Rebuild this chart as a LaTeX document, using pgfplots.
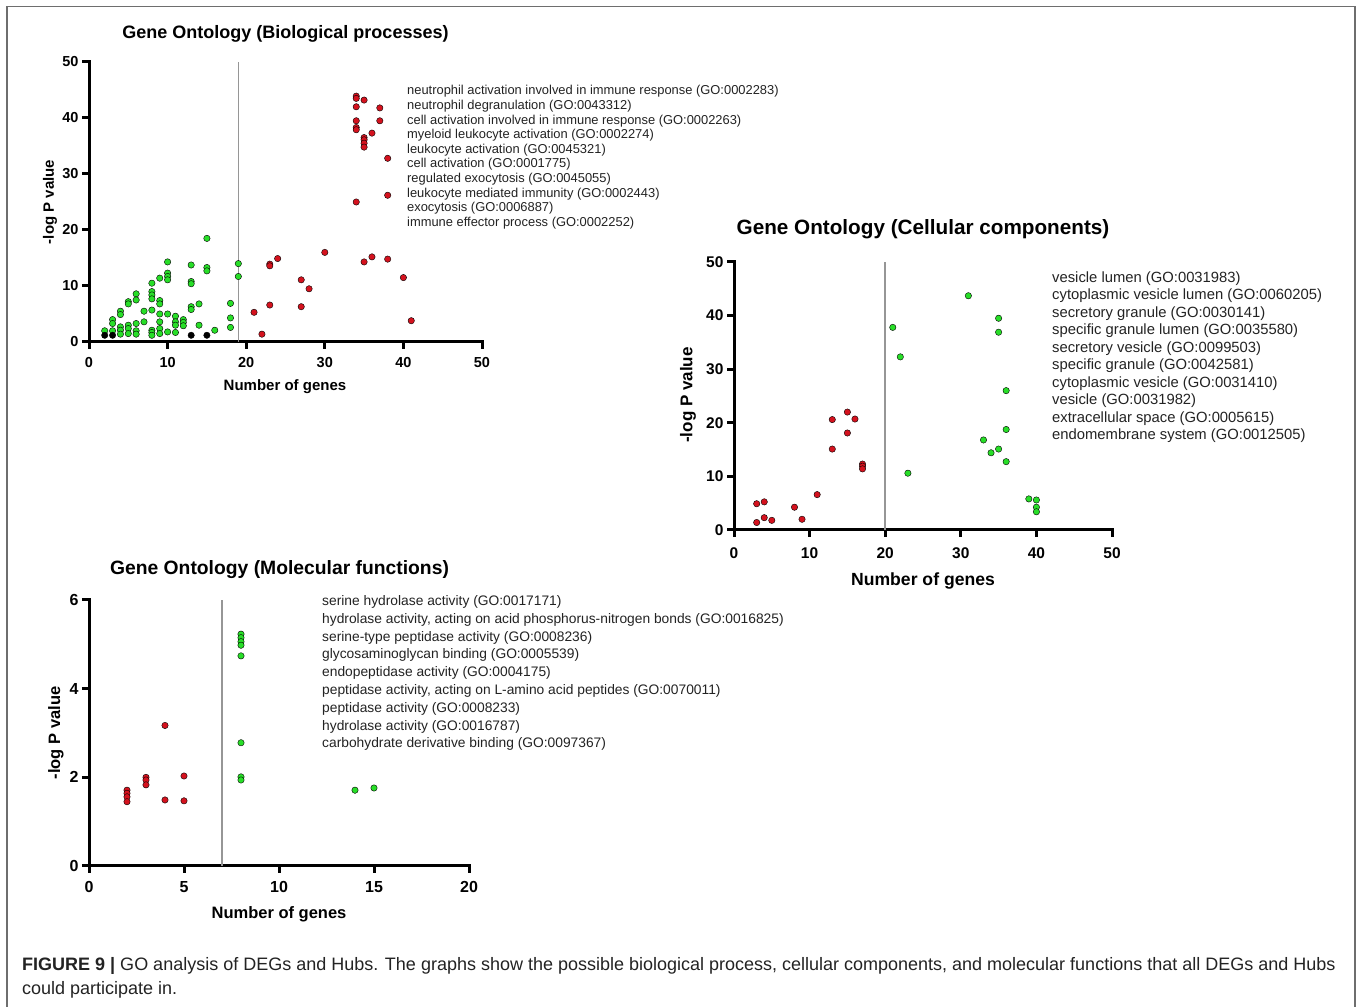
\documentclass[border=0pt]{standalone}
\usepackage{fontspec}
\setmainfont{Liberation Sans}
\usepackage{pgfplots}
\pgfplotsset{compat=1.18}
\definecolor{gogreen}{RGB}{40,222,40}
\definecolor{gored}{RGB}{212,18,30}
\definecolor{vline}{RGB}{150,150,150}
\definecolor{frame}{RGB}{110,110,110}
\definecolor{txt}{RGB}{35,35,35}
\newcommand{\fs}[1]{\fontsize{#1}{#1}\selectfont}
\pgfplotsset{
  goaxis/.style={
    anchor=south west, scale only axis, clip=false,
    axis lines=left,
    axis line style={-, line width=3pt, line cap=rect, black},
    tick align=outside, major tick length=7pt,
    tick style={line width=3pt, black},
    /pgf/number format/assume math mode=true,
  },
  gomark/.style={only marks, mark=*, mark size=3.2pt, mark options={draw=none, fill=#1}},
}
\begin{document}
\begin{tikzpicture}[x=1pt,y=1pt]
\useasboundingbox (0,0) rectangle (1358,1007);
\fill[white] (0,0) rectangle (1358,1007);
\draw[frame, line width=1.6pt] (7,-5) -- (7,1000.5) -- (1355,1000.5) -- (1355,-5);

% ---------------- Plot 1: Biological processes
\begin{axis}[goaxis, at={(89pt,665pt)}, width=393pt, height=280pt,
  xmin=0, xmax=50, ymin=0, ymax=50,
  xtick={0,10,...,50}, ytick={0,10,...,50},
  ticklabel style={font=\bfseries\fs{14.5}},
  xticklabel style={yshift=-5pt}]
\addplot[vline, line width=1.5pt] coordinates {(19,0) (19,50)};
\addplot[gomark=gogreen] coordinates {
(2,2.0)
(3,4.0) (3,3.3) (3,2.0)
(4,5.5) (4,4.9) (4,2.7) (4,2.1) (4,1.4)
(5,7.2) (5,6.8) (5,3.0) (5,2.4) (5,1.5)
(6,8.6) (6,7.5) (6,3.3) (6,2.0) (6,1.4)
(7,5.5) (7,3.6)
(8,10.5) (8,9.0) (8,8.4) (8,7.7) (8,5.7) (8,2.1) (8,1.7) (8,1.2)
(9,11.4) (9,7.4) (9,6.8) (9,5.0) (9,3.6) (9,2.4) (9,1.5)
(10,14.3) (10,12.3) (10,11.7) (10,11.1) (10,5.0) (10,1.8)
(11,4.6) (11,3.6) (11,3.0) (11,1.7)
(12,4.0) (12,3.5) (12,2.9)
(13,13.75) (13,10.8) (13,10.4) (13,6.3) (13,5.8)
(14,6.8) (14,3.0)
(15,18.5) (15,13.3) (15,12.7)
(16,2.1)
(18,6.9) (18,4.3) (18,2.6)
(19,14.0) (19,11.7)
};
\addplot[gomark=black] coordinates {(2,1.2) (3,1.2) (13,1.2) (15,1.2)};
\addplot[gomark=gored] coordinates {
(21,5.3) (22,1.4) (23,13.9) (23,13.6) (23,6.6) (24,14.9)
(27,11.1) (27,6.3) (28,9.5) (30,16.0)
(34,43.9) (34,43.5) (34,42.0) (34,39.5) (34,38.3) (34,37.9) (34,25.0)
(35,43.2) (35,36.5) (35,36.1) (35,35.5) (35,34.8) (35,14.3)
(36,37.3) (36,15.2)
(37,41.8) (37,39.5)
(38,32.8) (38,26.2) (38,14.8)
(40,11.5) (41,3.8)
};
\end{axis}
\node[font=\bfseries\fs{18}] at (285.5,973) {Gene Ontology (Biological processes)};
\node[font=\bfseries\fs{15}] at (285,620) {Number of genes};
\node[font=\bfseries\fs{15}, rotate=90] at (50,805) {-log P value};
\foreach \t [count=\i from 0] in {
  neutrophil activation involved in immune response (GO:0002283),
  neutrophil degranulation (GO:0043312),
  cell activation involved in immune response (GO:0002263),
  myeloid leukocyte activation (GO:0002274),
  leukocyte activation (GO:0045321),
  cell activation (GO:0001775),
  regulated exocytosis (GO:0045055),
  leukocyte mediated immunity (GO:0002443),
  exocytosis (GO:0006887),
  immune effector process (GO:0002252)}
  \node[anchor=base west, inner sep=0pt, text=txt, font=\fs{12.9}] at (407,912-14.6*\i) {\t};

% ---------------- Plot 2: Cellular components
\begin{axis}[goaxis, at={(734pt,477pt)}, width=378pt, height=268pt,
  xmin=0, xmax=50, ymin=0, ymax=50,
  xtick={0,10,...,50}, ytick={0,10,...,50},
  ticklabel style={font=\bfseries\fs{15.5}},
  xticklabel style={yshift=-7pt}]
\addplot[vline, line width=1.8pt] coordinates {(20,0) (20,50)};
\addplot[gomark=gored] coordinates {
(3,4.9) (3,1.4) (4,5.25) (4,2.3) (5,1.8) (8,4.25) (9,2.0) (11,6.6)
(13,20.6) (13,15.1) (15,22.0) (15,18.1) (16,20.7)
(17,12.3) (17,11.9) (17,11.4)
};
\addplot[gomark=gogreen] coordinates {
(21,37.8) (22,32.3) (23,10.6) (31,43.7)
(35,39.5) (35,36.9) (36,26.0) (36,18.75) (36,12.75)
(33,16.8) (34,14.4) (35,15.1)
(39,5.8) (40,5.6) (40,4.25) (40,3.4)
};
\end{axis}
\node[font=\bfseries\fs{20.7}] at (923,778) {Gene Ontology (Cellular components)};
\node[font=\bfseries\fs{17.6}] at (923,426) {Number of genes};
\node[font=\bfseries\fs{17}, rotate=90] at (688,612) {-log P value};
\foreach \t [count=\i from 0] in {
  vesicle lumen (GO:0031983),
  cytoplasmic vesicle lumen (GO:0060205),
  secretory granule (GO:0030141),
  specific granule lumen (GO:0035580),
  secretory vesicle (GO:0099503),
  specific granule (GO:0042581),
  cytoplasmic vesicle (GO:0031410),
  vesicle (GO:0031982),
  extracellular space (GO:0005615),
  endomembrane system (GO:0012505)}
  \node[anchor=base west, inner sep=0pt, text=txt, font=\fs{14.8}] at (1052,724.5-17.5*\i) {\t};

% ---------------- Plot 3: Molecular functions
\begin{axis}[goaxis, at={(89pt,141pt)}, width=380pt, height=266pt,
  xmin=0, xmax=20, ymin=0, ymax=6,
  xtick={0,5,...,20}, ytick={0,2,4,6},
  ticklabel style={font=\bfseries\fs{16}},
  xticklabel style={yshift=-5pt}]
\addplot[vline, line width=1.6pt] coordinates {(7,0) (7,6)};
\addplot[gomark=gored] coordinates {
(2,1.71) (2,1.64) (2,1.56) (2,1.45)
(3,2.0) (3,1.94) (3,1.83)
(4,3.17) (4,1.49)
(5,2.03) (5,1.47)
};
\addplot[gomark=gogreen] coordinates {
(8,5.23) (8,5.15) (8,5.06) (8,4.98) (8,4.74) (8,2.78) (8,2.01) (8,1.94)
(14,1.71) (15,1.76)
};
\end{axis}
\node[font=\bfseries\fs{19.3}] at (279.5,437.5) {Gene Ontology (Molecular functions)};
\node[font=\bfseries\fs{16.5}] at (279,93) {Number of genes};
\node[font=\bfseries\fs{16.5}, rotate=90] at (56,274) {-log P value};
\foreach \t [count=\i from 0] in {
  serine hydrolase activity (GO:0017171),
  {hydrolase activity, acting on acid phosphorus-nitrogen bonds (GO:0016825)},
  serine-type peptidase activity (GO:0008236),
  glycosaminoglycan binding (GO:0005539),
  endopeptidase activity (GO:0004175),
  {peptidase activity, acting on L-amino acid peptides (GO:0070011)},
  peptidase activity (GO:0008233),
  hydrolase activity (GO:0016787),
  carbohydrate derivative binding (GO:0097367)}
  \node[anchor=base west, inner sep=0pt, text=txt, font=\fs{13.8}] at (322,401.5-17.8*\i) {\t};

% ---------------- Caption
\node[anchor=base west, inner sep=0pt, text=txt, font=\fs{18}] at (22,36) {\textbf{FIGURE 9 |} GO analysis of DEGs and Hubs. The graphs show the possible biological process, cellular components, and molecular functions that all DEGs and Hubs};
\node[anchor=base west, inner sep=0pt, text=txt, font=\fs{18}] at (22,12) {could participate in.};
\end{tikzpicture}
\end{document}
